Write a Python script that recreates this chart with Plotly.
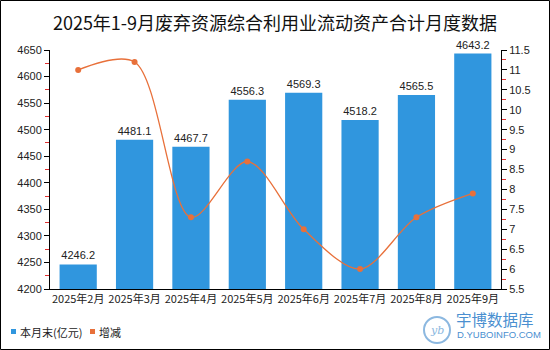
import plotly.graph_objects as go

# Monthly data, Feb–Sep 2025
months = ["2025年2月", "2025年3月", "2025年4月", "2025年5月",
          "2025年6月", "2025年7月", "2025年8月", "2025年9月"]
balance = [4246.2, 4481.1, 4467.7, 4556.3, 4569.3, 4518.2, 4565.5, 4643.2]   # 本月末(亿元)
change = [11.0, 11.2, 7.3, 8.7, 7.0, 6.0, 7.3, 7.9]                            # 增减

BAR_BLUE = "#3096de"
LINE_ORANGE = "#e8703a"
FONT = "Liberation Sans, Noto Sans CJK SC, sans-serif"
CJK = "Noto Sans CJK SC, sans-serif"

W, H = 550, 350
ML, MR, MT, MB = 50, 49, 50, 61
PW, PH = W - ML - MR, H - MT - MB

fig = go.Figure()

fig.add_trace(go.Bar(
    x=months, y=balance, name="本月末(亿元)",
    marker=dict(color=BAR_BLUE, line=dict(width=0)),
    texttemplate="%{y:.1f}", textposition="outside",
    textfont=dict(size=11, color="#222222", family=FONT),
    cliponaxis=False,
))

fig.add_trace(go.Scatter(
    x=months, y=change, yaxis="y2", mode="lines+markers", name="增减",
    line=dict(color=LINE_ORANGE, width=1.3, shape="spline", smoothing=0.9),
    marker=dict(color=LINE_ORANGE, size=6),
))


def px_x(p):
    return (p - ML) / PW


def px_y(p):
    return (H - MB - p) / PH


def legend_key(x, color, label):
    shape = dict(type="rect", xref="paper", yref="paper",
                 x0=px_x(x), x1=px_x(x + 5), y0=px_y(334), y1=px_y(329),
                 line=dict(width=0), fillcolor=color)
    note = dict(text=label, xref="paper", yref="paper", x=px_x(x + 7), y=px_y(331.5),
                xanchor="left", yanchor="middle", showarrow=False,
                font=dict(size=11, color="#222222", family=CJK))
    return shape, note


k1_shape, k1_note = legend_key(11, BAR_BLUE, "本月末(亿元)")
k2_shape, k2_note = legend_key(90, LINE_ORANGE, "增减")

fig.update_layout(
    width=W, height=H,
    margin=dict(l=ML, r=MR, t=MT, b=MB),
    paper_bgcolor="white", plot_bgcolor="white",
    showlegend=False,
    font=dict(family=FONT, size=11, color="#222222"),
    title=dict(text="2025年1-9月废弃资源综合利用业流动资产合计月度数据",
               x=0.5, xanchor="center", y=1 - 24 / H, yanchor="middle",
               font=dict(size=18, color="#111111", family=CJK)),
    bargap=0.34,
    xaxis=dict(showline=True, linecolor="black", linewidth=1, ticks="",
               showgrid=False, tickfont=dict(size=11, family=CJK)),
    yaxis=dict(range=[4200, 4650], dtick=50, showgrid=False, zeroline=False,
               showline=True, linecolor="black", linewidth=1,
               ticks="outside", ticklen=5, tickcolor="black",
               minor=dict(dtick=25, ticks="outside", ticklen=4, tickcolor="#e03030"),
               tickfont=dict(size=11)),
    yaxis2=dict(range=[5.5, 11.5], dtick=0.5, overlaying="y", side="right",
                showgrid=False, zeroline=False,
                showline=True, linecolor="black", linewidth=1,
                ticks="outside", ticklen=5, tickcolor="black",
                minor=dict(dtick=0.25, ticks="outside", ticklen=4, tickcolor="#e03030"),
                tickfont=dict(size=11)),
    shapes=[
        # outer frame
        dict(type="rect", xref="paper", yref="paper",
             x0=px_x(0.5), x1=px_x(W - 0.5), y0=px_y(H - 0.5), y1=px_y(0.5),
             line=dict(color="black", width=1), fillcolor="rgba(0,0,0,0)", layer="below"),
        # watermark logo ring
        dict(type="circle", xref="paper", yref="paper",
             x0=px_x(424), x1=px_x(450), y0=px_y(343), y1=px_y(317),
             line=dict(color="#8cb8e0", width=2), fillcolor="rgba(0,0,0,0)"),
        k1_shape, k2_shape,
    ],
    annotations=[
        dict(text="<i>yb</i>", xref="paper", yref="paper", x=px_x(437), y=px_y(330),
             xanchor="center", yanchor="middle", showarrow=False,
             font=dict(size=11, color="#8cb8e0", family="DejaVu Serif")),
        dict(text="宇博数据库", xref="paper", yref="paper", x=px_x(454), y=px_y(319),
             xanchor="left", yanchor="middle", showarrow=False,
             font=dict(size=15.5, color="#4a8fd0", family=CJK)),
        dict(text="D.YUBOINFO.COM", xref="paper", yref="paper", x=px_x(455), y=px_y(334.5),
             xanchor="left", yanchor="middle", showarrow=False,
             font=dict(size=9.5, color="#4a8fd0", family="Liberation Sans, sans-serif")),
        k1_note, k2_note,
    ],
)

fig.write_html("out.html")
